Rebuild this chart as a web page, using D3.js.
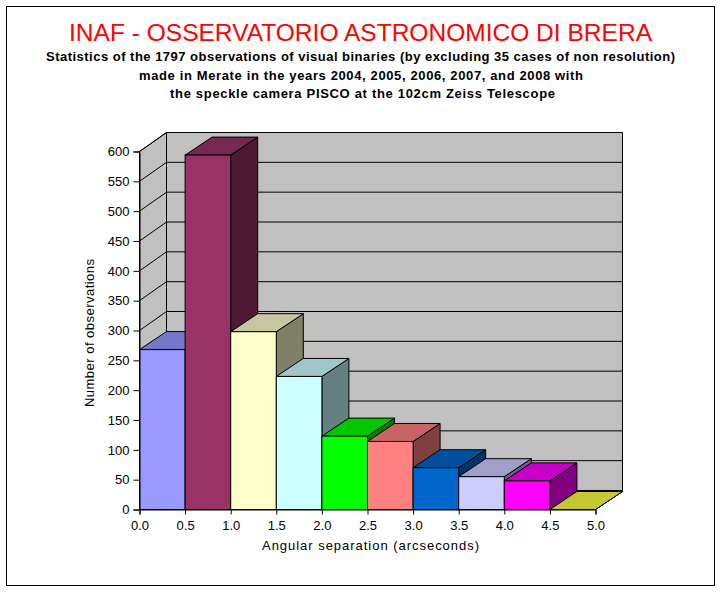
<!DOCTYPE html>
<html><head><meta charset="utf-8">
<script src="https://cdnjs.cloudflare.com/ajax/libs/d3/7.8.5/d3.min.js"></script>
<style>html,body{margin:0;padding:0;background:#fff}svg{display:block}text{font-family:"Liberation Sans",Arial,sans-serif;fill:#000}</style>
</head><body><svg id="c" width="722" height="593"></svg>
<script>
const binStarts=[0,0.5,1,1.5,2,2.5,3,3.5,4,4.5];
const counts=[268,594,298,223,123,114,70,55,48,0];
const barColors=["#9999FF","#993366","#FFFFCC","#CCFFFF","#00FF00","#FF8080","#0066CC","#CCCCFF","#FF00FF","#FFFF40"];
const yTicks=d3.range(0,601,50);
const xTicks=[0,0.5,1,1.5,2,2.5,3,3.5,4,4.5,5];
const titleText="INAF - OSSERVATORIO ASTRONOMICO DI BRERA";
const subtitleLines=[
 "Statistics of the 1797 observations of visual binaries (by excluding 35 cases of non resolution)",
 "made in Merate in the years 2004, 2005, 2006, 2007, and 2008 with",
 "the speckle camera PISCO at the 102cm Zeiss Telescope"];
const subtitleBox=[[46,629,61],[139,444,80],[170,385,98]];

const svg=d3.select("#c");
const x=d3.scaleLinear().domain([0,5]).range([139.5,595.5]);
const y=d3.scaleLinear().domain([0,600]).range([509.5,151.5]);
const dx=27,dy=-19,barDy=-18;
const poly=(pts)=>pts.map(p=>p.join(",")).join(" ");
svg.append("rect").attr("x",6.5).attr("y",6.5).attr("width",708).attr("height",579).attr("fill","#fff").attr("stroke","#000");
svg.append("text").attr("x",69).attr("y",41).attr("font-size",24).style("fill","#f00")
  .attr("textLength",583).attr("lengthAdjust","spacingAndGlyphs").text(titleText);
subtitleLines.forEach((t,i)=>svg.append("text").attr("x",subtitleBox[i][0]).attr("y",subtitleBox[i][2])
  .attr("font-size",13).attr("font-weight","bold").attr("textLength",subtitleBox[i][1]).attr("lengthAdjust","spacing").text(t));

const g=svg.append("g").attr("stroke","#000").attr("stroke-width",1).attr("stroke-linejoin","miter");
const x0=x(0),x5=x(5),y0=y(0),yT=y(600);
g.append("polygon").attr("fill","#C0C0C0").attr("points",poly([[x0,y0],[x0+dx,y0+dy],[x0+dx,yT+dy],[x0,yT]]));
g.append("polygon").attr("fill","#C0C0C0").attr("points",poly([[x0+dx,y0+dy],[x5+dx,y0+dy],[x5+dx,yT+dy],[x0+dx,yT+dy]]));
g.append("polygon").attr("fill","#C0C0C0").attr("points",poly([[x0,y0],[x5,y0],[x5+dx,y0+dy],[x0+dx,y0+dy]]));
yTicks.forEach(v=>{
  g.append("polyline").attr("fill","none").attr("points",poly([[x0,y(v)],[x0+dx,y(v)+dy],[x5+dx,y(v)+dy]]));
});
binStarts.forEach((s,i)=>{
  const l=x(s),r=x(s+0.5),t=y(counts[i]),b=y0;
  const c=d3.rgb(barColors[i]);
  const top=d3.rgb(c.r*.78,c.g*.78,c.b*.78), side=d3.rgb(c.r*.5,c.g*.5,c.b*.5);
  g.append("polygon").attr("fill",side).attr("points",poly([[r,t],[r+dx,t+barDy],[r+dx,b+barDy],[r,b]]));
  g.append("polygon").attr("fill",top).attr("points",poly([[l,t],[l+dx,t+barDy],[r+dx,t+barDy],[r,t]]));
  g.append("rect").attr("x",l).attr("y",t).attr("width",r-l).attr("height",b-t).attr("fill",c);
});
const ax=svg.append("g").attr("transform",`translate(${x0},0)`).call(d3.axisLeft(y).tickValues(yTicks).tickSize(6).tickPadding(4).tickFormat(d3.format("d")));
const bx=svg.append("g").attr("transform",`translate(0,${y0})`).call(d3.axisBottom(x).tickValues(xTicks).tickSize(5).tickPadding(6).tickFormat(d3.format(".1f")));
[ax,bx].forEach(a=>{a.select(".domain").attr("stroke","#000");a.selectAll("line").attr("stroke","#000");
  a.selectAll("text").attr("font-size",13).attr("font-family","Liberation Sans");});
svg.append("text").attr("x",262).attr("y",550).attr("font-size",13).attr("textLength",217).attr("lengthAdjust","spacing").text("Angular separation  (arcseconds)");
svg.append("text").attr("transform","translate(94,407) rotate(-90)").attr("font-size",13).attr("textLength",148).attr("lengthAdjust","spacing").text("Number of observations");
</script></body></html>
